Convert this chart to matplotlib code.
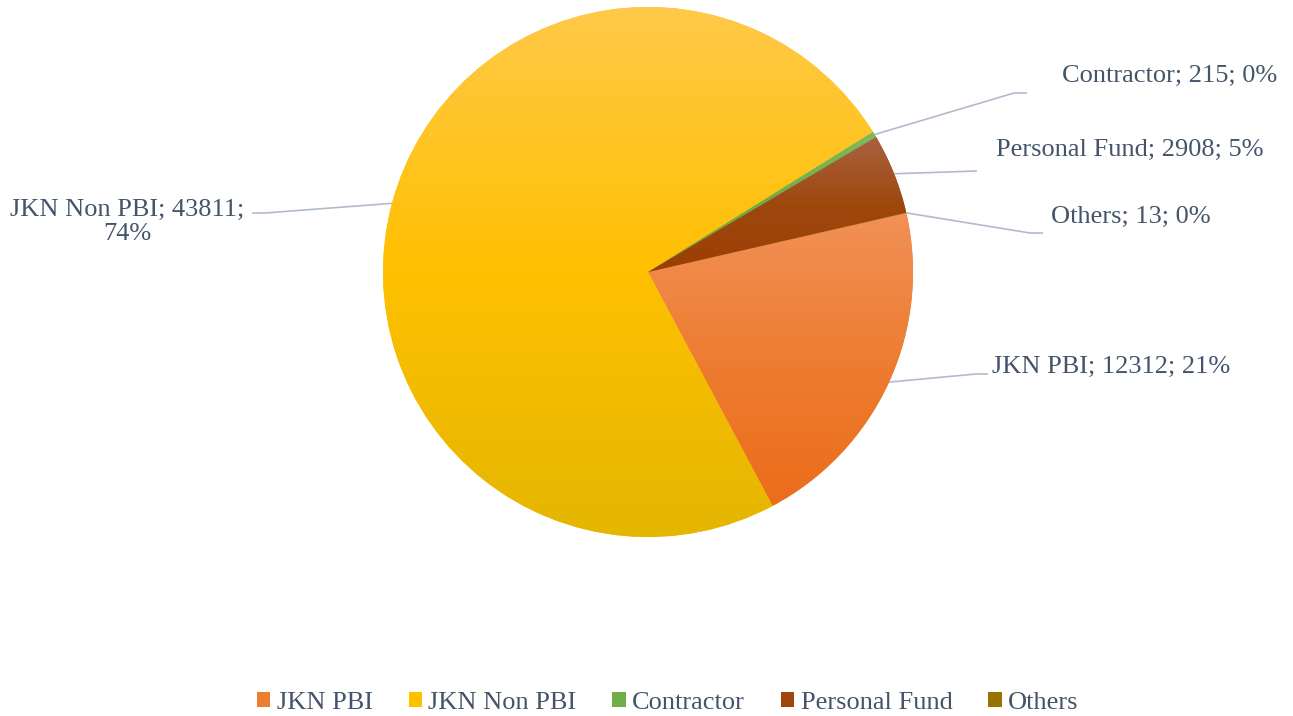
import numpy as np
import matplotlib
matplotlib.use("Agg")
import matplotlib.pyplot as plt
from matplotlib.patches import Patch
from matplotlib.colors import to_rgb, LinearSegmentedColormap

plt.rcParams['font.family'] = ['Liberation Serif', 'DejaVu Serif']

categories = ["JKN PBI", "JKN Non PBI", "Contractor", "Personal Fund", "Others"]
values = [12312, 43811, 215, 2908, 13]
pct_labels = ["21%", "74%", "0%", "5%", "0%"]

top_colors = ["#F29057", "#FFC94A", "#7FBA5C", "#A9623F", "#A07E1A"]
mid_colors = ["#ED7D31", "#FFC000", "#70AD47", "#9E480E", "#997300"]
bot_colors = ["#EC6C1B", "#E4B600", "#63A33A", "#9B3F04", "#8F6A00"]

TEXT = "#44546A"
LINE = "#B0BCCB"

W, H = 1293, 716
fig = plt.figure(figsize=(W / 100, H / 100), dpi=100)
ax = fig.add_axes([0, 0, 1, 1])

cx, cy, R = 648, 272, 265
# y axis is inverted (pixel-like), so angles are mirrored
wedges, _ = ax.pie(values, startangle=-12.85, counterclock=True, center=(cx, cy),
                   radius=R, colors=mid_colors, frame=True,
                   wedgeprops=dict(linewidth=0))
ax.set_xlim(0, W)
ax.set_ylim(H, 0)
ax.set_aspect('equal')
ax.axis('off')

# gradient fills clipped per wedge
for w, tc, mc, bc in zip(wedges, top_colors, mid_colors, bot_colors):
    path = w.get_path().transformed(w.get_patch_transform())
    verts = path.vertices
    y0, y1 = verts[:, 1].min(), verts[:, 1].max()
    x0, x1 = verts[:, 0].min(), verts[:, 0].max()
    cmap = LinearSegmentedColormap.from_list("g", [(0, tc), (0.5, mc), (1, bc)])
    t = np.linspace(0, 1, 256)[:, None]
    img = cmap(np.repeat(t, 2, axis=1))
    im = ax.imshow(img, extent=(x0, x1, y1, y0), origin='upper', zorder=w.get_zorder() + 0.1,
                   interpolation='bilinear', aspect='auto')
    im.set_clip_path(w)
ax.set_xlim(0, W)
ax.set_ylim(H, 0)

# label layout: (elbow points, text position, ha)
layouts = {
    "JKN PBI": ([(976, 374), (988, 374)], (992, 367), 'left'),
    "JKN Non PBI": ([(265, 213), (252, 213)], (127, 222), 'center'),
    "Contractor": ([(1014, 93), (1027, 93)], (1062, 76), 'left'),
    "Personal Fund": ([(977, 171)], (996, 150), 'left'),
    "Others": ([(1030, 233), (1043, 233)], (1051, 217), 'left'),
}

for w, cat, val, pct in zip(wedges, categories, values, pct_labels):
    mid = np.deg2rad((w.theta1 + w.theta2) / 2)
    px = cx + R * np.cos(mid)
    py = cy + R * np.sin(mid)
    pts, tpos, ha = layouts[cat]
    xs = [px] + [p[0] for p in pts]
    ys = [py] + [p[1] for p in pts]
    ax.plot(xs, ys, color=LINE, lw=1.2, zorder=5, solid_capstyle='butt')
    if cat == "JKN Non PBI":
        label = f"{cat}; {val};\n{pct}"
    else:
        label = f"{cat}; {val}; {pct}"
    ax.text(tpos[0], tpos[1], label, ha=ha, va='center', fontsize=19, color=TEXT,
            multialignment='center', linespacing=1.15, zorder=6)

handles = [Patch(facecolor=c, edgecolor='none') for c in mid_colors]
leg = fig.legend(handles, categories, loc='center', bbox_to_anchor=(0.5165, 1 - 703 / H),
                 ncol=5, frameon=False, fontsize=19, handlelength=0.5, handleheight=0.5,
                 handletextpad=0.25, columnspacing=1.36, labelcolor=TEXT)

fig.savefig("out.png", dpi=100)
